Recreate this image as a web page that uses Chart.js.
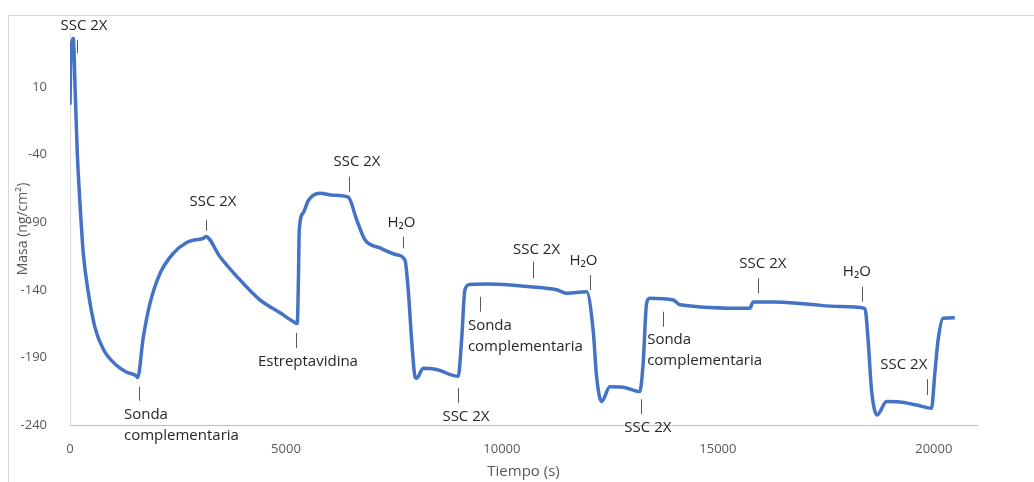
<!DOCTYPE html>
<html>
<head>
<meta charset="utf-8">
<title>Masa vs tiempo</title>
<script src="https://cdn.jsdelivr.net/npm/chart.js@4.4.0/dist/chart.umd.min.js"></script>
<style>
  html, body { margin: 0; padding: 0; background: #fff; }
  #wrap { width: 1034px; height: 482px; }
</style>
</head>
<body>
<div id="wrap"><canvas id="masaChart" width="1034" height="482"></canvas></div>
<script>
// tiempo (s) y masa (ng/cm2)
const tiempo = [0, 25, 50, 76, 100, 116, 169, 231, 308, 424, 579, 771, 1081, 1312, 1544, 1565,
  1697, 1852, 2083, 2391, 2701, 2900, 3086, 3141,
  3472, 3859, 4398, 4861, 5169, 5262,
  5290, 5308, 5400, 5516, 5632, 5787, 6095, 6442,
  6636, 6829, 7176, 7563, 7755,
  7831, 7910, 7986, 8025, 8178, 8488, 8988,
  9067, 9144, 9259, 9722, 10648, 11266, 11498, 11961,
  12113, 12192, 12308, 12500, 12808, 13194,
  13271, 13350, 13426, 13965, 14120, 15741, 15817, 16280, 17053, 17824, 18403,
  18479, 18558, 18688, 18905, 19213, 19600, 19947,
  20023, 20100, 20215, 20486];
const masa = [-3, 38, 44, 46, 30, 10, -39, -76, -113, -142, -168, -184, -196, -201, -204, -205,
  -175, -150, -128, -113, -105, -103, -102, -100.5,
  -115.5, -130, -147.5, -157, -163.5, -165,
  -130, -96, -83, -74, -70, -68.5, -70, -71.5,
  -88, -103, -109, -114, -118,
  -140, -177, -204, -205.5, -198, -199, -204,
  -177, -140, -136, -135.7, -137.7, -140, -142.5, -141.5,
  -170, -204, -222.7, -211.7, -212, -215.3,
  -194, -150, -146.3, -147.5, -151, -153.7, -149, -149, -150.5, -152.4, -153.7,
  -177, -214, -232.6, -222.7, -223, -225.2, -227.6,
  -202, -177, -161, -160.6];

const ticksX = [0, 5000, 10000, 15000, 20000];
const ticksY = [-240, -190, -140, -90, -40, 10];

// anotaciones: texto, marca (t, y1, y2) y posicion del texto (t, y) en unidades de datos
const anotaciones = [
  { texto: ['SSC 2X'], t: 155, y1: 44.8, y2: 35.1, tt: 324, ty: 55.1, alinear: 'center' },
  { texto: ['Sonda', 'complementaria'], t: 1604, y1: -211.7, y2: -222.0, tt: 1250, ty: -232.6, alinear: 'left' },
  { texto: ['SSC 2X'], t: 3141, y1: -88.4, y2: -96.3, tt: 3310, ty: -74.8, alinear: 'center' },
  { texto: ['Estreptavidina'], t: 5231, y1: -171.9, y2: -183.0, tt: 5509, ty: -193.2, alinear: 'center' },
  { texto: ['SSC 2X'], t: 6465, y1: -56.3, y2: -67.4, tt: 6644, ty: -45.3, alinear: 'center' },
  { texto: ['H₂O'], t: 7715, y1: -100.7, y2: -109.3, tt: 7674, ty: -90.6, alinear: 'center' },
  { texto: ['SSC 2X'], t: 8988, y1: -212.6, y2: -223.7, tt: 9167, ty: -233.9, alinear: 'center' },
  { texto: ['Sonda', 'complementaria'], t: 9491, y1: -145.1, y2: -156.2, tt: 9213, ty: -166.8, alinear: 'left' },
  { texto: ['SSC 2X'], t: 10711, y1: -119.2, y2: -131.5, tt: 10803, ty: -110.6, alinear: 'center' },
  { texto: ['H₂O'], t: 12037, y1: -129.1, y2: -140.1, tt: 11887, ty: -118.5, alinear: 'center' },
  { texto: ['SSC 2X'], t: 13211, y1: -221.0, y2: -231.9, tt: 13380, ty: -241.7, alinear: 'center' },
  { texto: ['Sonda', 'complementaria'], t: 13720, y1: -156.2, y2: -167.3, tt: 13363, ty: -177.1, alinear: 'left' },
  { texto: ['SSC 2X'], t: 15933, y1: -131.5, y2: -142.6, tt: 16042, ty: -120.9, alinear: 'center' },
  { texto: ['H₂O'], t: 18340, y1: -137.7, y2: -148.8, tt: 18218, ty: -126.6, alinear: 'center' },
  { texto: ['SSC 2X'], t: 19845, y1: -206.1, y2: -217.8, tt: 19306, ty: -195.6, alinear: 'center' }
];

Chart.defaults.font.family = '"Open Sans", "DejaVu Sans", sans-serif';

const puntos = tiempo.map((t, i) => ({ x: t, y: masa[i] }));

// marco exterior del grafico (como en Excel)
const marco = {
  id: 'marco',
  beforeDraw(chart) {
    const ctx = chart.ctx;
    ctx.save();
    ctx.strokeStyle = '#d9d9d9';
    ctx.lineWidth = 1;
    ctx.beginPath();
    ctx.moveTo(8.5, chart.height);
    ctx.lineTo(8.5, 15.5);
    ctx.lineTo(chart.width, 15.5);
    ctx.stroke();
    ctx.restore();
  }
};

const etiquetas = {
  id: 'etiquetas',
  afterDatasetsDraw(chart) {
    const { ctx, scales: { x, y } } = chart;
    ctx.save();
    ctx.font = '15px "Open Sans", sans-serif';
    ctx.fillStyle = '#262626';
    ctx.strokeStyle = '#595959';
    ctx.lineWidth = 1;
    anotaciones.forEach(a => {
      const px = Math.round(x.getPixelForValue(a.t)) + 0.5;
      ctx.beginPath();
      ctx.moveTo(px, y.getPixelForValue(a.y1));
      ctx.lineTo(px, y.getPixelForValue(a.y2));
      ctx.stroke();
      ctx.textAlign = a.alinear;
      ctx.textBaseline = 'middle';
      const tx = x.getPixelForValue(a.tt);
      const ty = y.getPixelForValue(a.ty);
      a.texto.forEach((linea, i) => ctx.fillText(linea, tx, ty + i * 21));
    });
    ctx.restore();
  }
};

new Chart(document.getElementById('masaChart'), {
  type: 'scatter',
  data: {
    datasets: [{
      label: 'Masa',
      data: puntos,
      showLine: true,
      borderColor: '#4472c4',
      borderWidth: 3.5,
      pointRadius: 0,
      cubicInterpolationMode: 'monotone',
      fill: false
    }]
  },
  options: {
    responsive: false,
    animation: false,
    layout: { padding: { left: 8, top: 33, right: 57, bottom: 0 } },
    plugins: {
      legend: { display: false },
      tooltip: { enabled: false }
    },
    scales: {
      x: {
        type: 'linear',
        min: 0,
        max: 21000,
        grid: { display: false },
        border: { display: true, color: '#bfbfbf', width: 1 },
        afterBuildTicks: s => { s.ticks = ticksX.map(v => ({ value: v })); },
        afterFit: s => { s.height = 57; },
        ticks: {
          color: '#595959',
          font: { size: 13 },
          padding: 8,
          maxRotation: 0,
          callback: v => String(v)
        },
        title: {
          display: true,
          text: 'Tiempo (s)',
          color: '#595959',
          font: { size: 15 },
          padding: { top: 0, bottom: 1 }
        }
      },
      y: {
        type: 'linear',
        min: -240,
        max: 50,
        grid: { display: false },
        border: { display: true, color: '#d9d9d9', width: 1 },
        afterBuildTicks: s => { s.ticks = ticksY.map(v => ({ value: v })); },
        afterFit: s => { s.width = 62; },
        ticks: {
          color: '#595959',
          font: { size: 13 },
          padding: 15,
          callback: v => String(v)
        },
        title: {
          display: true,
          text: 'Masa (ng/cm²)',
          color: '#595959',
          font: { size: 14 },
          padding: { top: 7, bottom: 0 }
        }
      }
    }
  },
  plugins: [marco, etiquetas]
});
</script>
</body>
</html>
